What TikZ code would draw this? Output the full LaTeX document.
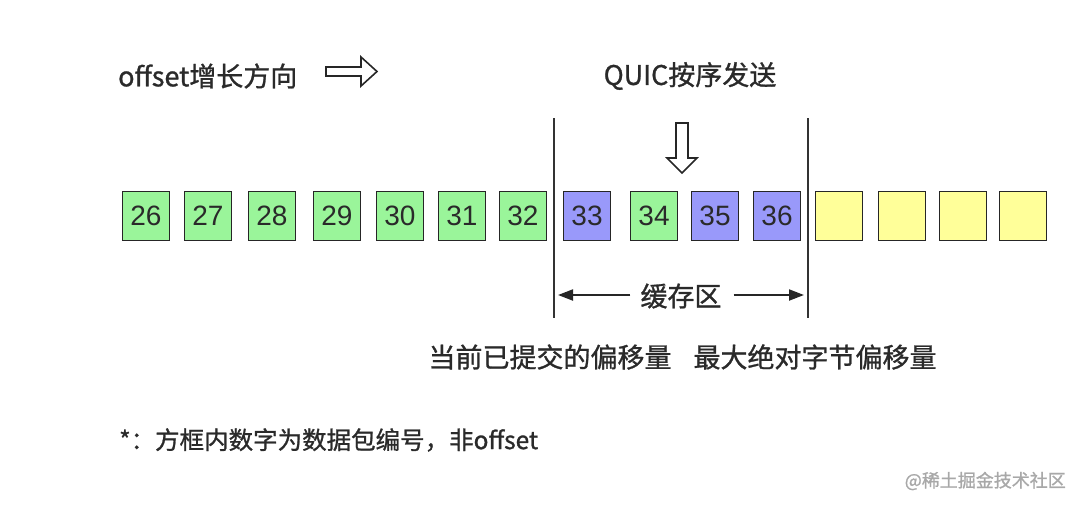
\documentclass[tikz,border=0pt]{standalone}
\usepackage{fontspec}
\setmainfont{Noto Sans CJK SC}[FakeBold=1.0]
\newfontfamily\lat{Liberation Sans}
\usetikzlibrary{arrows.meta}
\definecolor{tx}{HTML}{2A2A2A}
\definecolor{gfill}{HTML}{9AF59A}
\definecolor{bfill}{HTML}{9999FA}
\definecolor{yfill}{HTML}{FFFF99}
\definecolor{wm}{HTML}{A8A8A8}
\tikzset{
  pkt/.style={draw=black!85, line width=1.8pt, minimum width=47pt, minimum height=49pt, inner sep=0pt, font=\lat\fontsize{28}{28}\selectfont, text=tx},
  gpkt/.style={pkt, fill=gfill},
  bpkt/.style={pkt, fill=bfill},
  ypkt/.style={pkt, fill=yfill},
  label/.style={text=tx, inner sep=0pt, font=\fontsize{27}{27}\selectfont},
  divider/.style={draw=black!80, line width=1.6pt},
  hollow/.style={draw=black!85, line width=1.6pt, fill=white, line join=miter},
  span/.style={draw=black!85, line width=2pt, -{Triangle[length=15pt,width=11pt]}}
}
\begin{document}
\begin{tikzpicture}[x=1pt,y=-1pt]
\useasboundingbox (0,0) rectangle (1080,507);
% packets
\node[gpkt] (p26) at (146,216) {26};
\node[gpkt] (p27) at (208,216) {27};
\node[gpkt] (p28) at (272,216) {28};
\node[gpkt] (p29) at (337,216) {29};
\node[gpkt] (p30) at (400,216) {30};
\node[gpkt] (p31) at (462,216) {31};
\node[gpkt] (p32) at (523,216) {32};
\node[bpkt] (p33) at (587,216) {33};
\node[gpkt] (p34) at (654,216) {34};
\node[bpkt] (p35) at (715,216) {35};
\node[bpkt] (p36) at (777,216) {36};
\node[ypkt] (y1) at (839,216) {};
\node[ypkt] (y2) at (902,216) {};
\node[ypkt] (y3) at (963,216) {};
\node[ypkt] (y4) at (1023,216) {};
% dividers
\coordinate (l1t) at (554,118);
\coordinate (l1b) at (554,318);
\coordinate (l2t) at (808,118);
\coordinate (l2b) at (808,318);
\draw[divider] (l1t) -- (l1b);
\draw[divider] (l2t) -- (l2b);
% texts
\node[label, anchor=west] (dir) at (118,76) {offset增长方向};
\node[label] (quic) at (690,76) {QUIC按序发送};
\node[label] (buf) at (681,296) {缓存区};
\node[label] (cur) at (550,357) {当前已提交的偏移量};
\node[label] (max) at (815,357) {最大绝对字节偏移量};
\node[text=tx, inner sep=0pt, anchor=west, font=\fontsize{24.5}{24.5}\selectfont] (note) at (119,440) {*：方框内数字为数据包编号，非offset};
\node[text=wm, inner sep=0pt, anchor=east, font=\fontsize{18}{18}\selectfont] (mark) at (1066,481) {@稀土掘金技术社区};
% buffer span arrows
\coordinate (bl) at (558,295);
\coordinate (br) at (804,295);
\draw[span] (buf.west |- bl) ++(-10,0) -- (bl);
\draw[span] (buf.east |- br) ++(12,0) -- (br);
% hollow right arrow
\draw[hollow] (326,67) -- (361,67) -- (361,57) -- (377,71.5) -- (361,86) -- (361,76) -- (326,76) -- cycle;
% hollow down arrow
\draw[hollow] (676,123) -- (688,123) -- (688,158) -- (697,158) -- (682,173) -- (667,158) -- (676,158) -- cycle;
\end{tikzpicture}
\end{document}
